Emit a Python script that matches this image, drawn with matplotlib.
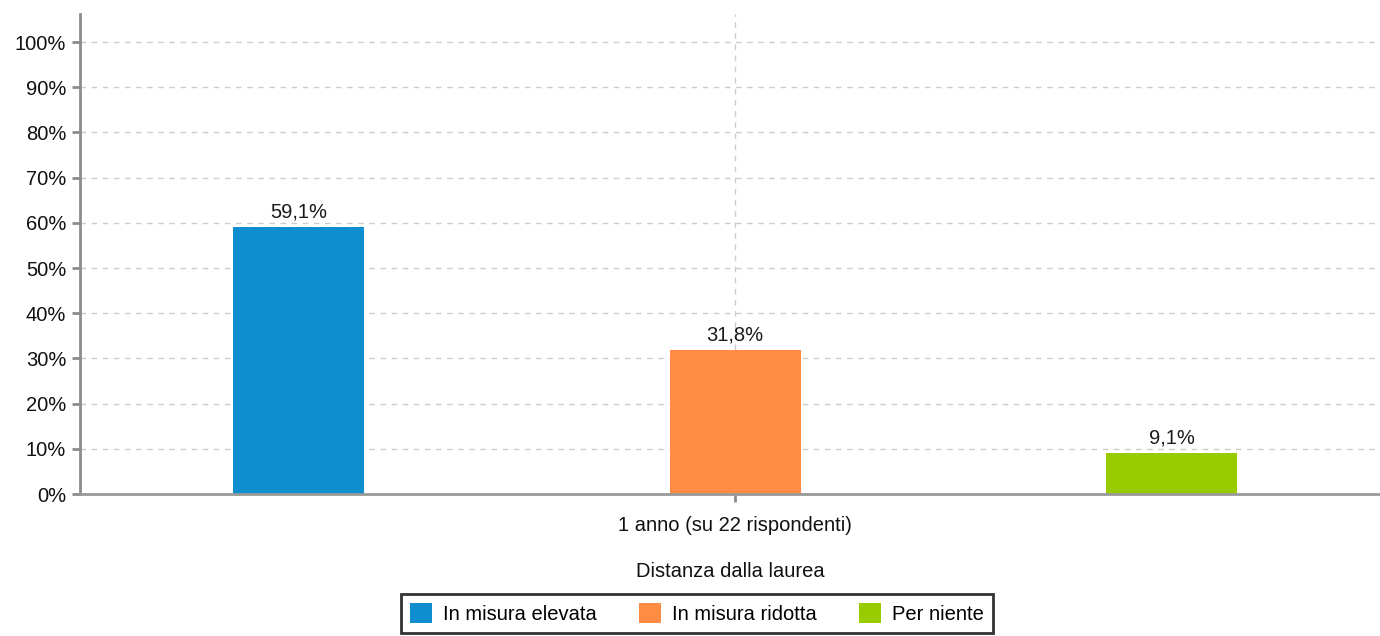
import matplotlib
matplotlib.use("Agg")
import matplotlib.pyplot as plt
from matplotlib.patches import Patch

categories = ["1 anno (su 22 rispondenti)"]
series_names = ["In misura elevata", "In misura ridotta", "Per niente"]
series_values = [[59.1], [31.8], [9.1]]
colors = ["#0e8dcf", "#ff8c42", "#99cc00"]
y_ticks = [0, 10, 20, 30, 40, 50, 60, 70, 80, 90, 100]

plt.rcParams['font.family'] = ['Liberation Sans', 'DejaVu Sans']
FS = 14.5

fig = plt.figure(figsize=(13.8, 6.36), dpi=100)
ax = fig.add_axes([80/1380, (636-494)/636, 1300/1380, (494-14)/636])

slot = 1/3
bw = 0.1
for i, (name, vals) in enumerate(zip(series_names, series_values)):
    xs = [c + (i - 1) * slot for c in range(len(categories))]
    ax.bar(xs, vals, width=bw, color=colors[i], zorder=3, label=name)
    for x, v in zip(xs, vals):
        ax.annotate(f"{v:.1f}%".replace(".", ","), (x, v), xytext=(0, 4),
                    textcoords="offset points", ha="center", va="bottom",
                    fontsize=FS, color="#1a1a1a", zorder=4)

ax.set_xlim(-0.5, 0.5 - 10/1310)
ax.set_ylim(0, (494-14)/4.52)
ax.set_yticks(y_ticks)
ax.set_yticklabels([f"{t}%" for t in y_ticks])
ax.set_xticks(range(len(categories)))
ax.set_xticklabels(categories)

ax.grid(True, axis="both", linestyle=(0, (4, 4)), color="#cccccc", linewidth=1, zorder=0)
for s in ["top", "right"]:
    ax.spines[s].set_visible(False)
ax.spines["left"].set_color("#8c8c8c")
ax.spines["left"].set_linewidth(2)
ax.spines["bottom"].set_color("#999999")
ax.spines["bottom"].set_linewidth(2)
ax.spines["bottom"].set_zorder(5)
ax.tick_params(axis="y", length=6, width=2, color="#8c8c8c", labelsize=FS, pad=4, labelcolor="#111111")
ax.tick_params(axis="x", length=6, width=2, color="#8c8c8c", labelsize=FS, pad=10, labelcolor="#111111")

ax.set_xlabel("Distanza dalla laurea", fontsize=FS, labelpad=19, color="#111111")

handles = [Patch(facecolor=c, edgecolor="none") for c in colors]
leg = fig.legend(handles, series_names, loc="center", bbox_to_anchor=(697/1380, (636-613.5)/636),
                 ncol=3, frameon=True, fancybox=False, fontsize=FS, handlelength=1.1,
                 handleheight=1.1, handletextpad=0.55, columnspacing=2.1, borderpad=0.45,
                 borderaxespad=0)
leg.get_frame().set_edgecolor("black")
leg.get_frame().set_linewidth(2)

fig.savefig("out.png", dpi=100)
